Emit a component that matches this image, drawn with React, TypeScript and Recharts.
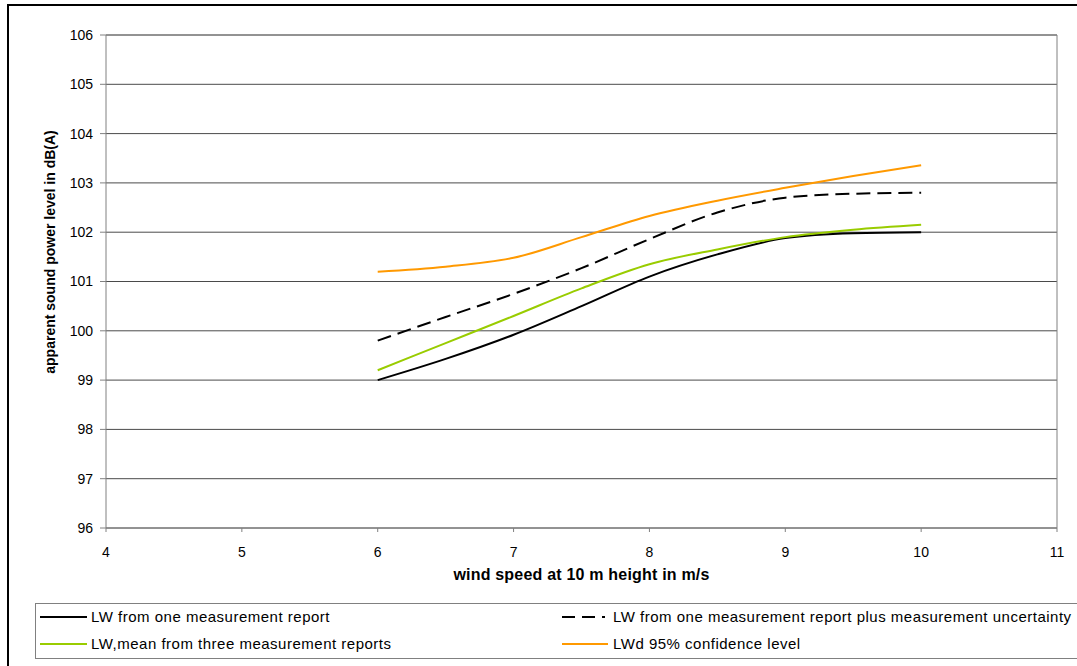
import React from 'react';
import { LineChart, Line, XAxis, YAxis, CartesianGrid, ReferenceLine, Legend, Label } from 'recharts';

const windSpeeds = [6, 6.5, 7, 7.5, 8, 8.5, 9, 9.5, 10];
const lwOneReport = [99.0, 99.43, 99.92, 100.5, 101.1, 101.55, 101.88, 101.98, 102.0];
const lwPlusUncertainty = [99.8, 100.28, 100.75, 101.27, 101.86, 102.4, 102.7, 102.78, 102.8];
const lwMeanThree = [99.2, 99.75, 100.3, 100.86, 101.35, 101.65, 101.9, 102.05, 102.15];
const lwd95 = [101.2, 101.3, 101.48, 101.9, 102.33, 102.64, 102.9, 103.14, 103.36];

const xTicks = [4, 5, 6, 7, 8, 9, 10, 11];
const yTicks = [96, 97, 98, 99, 100, 101, 102, 103, 104, 105, 106];

const seriesNames = [
  'LW from one measurement report',
  'LW from one measurement report plus measurement uncertainty',
  'LW,mean from three measurement reports',
  'LWd 95% confidence level',
];

const data = windSpeeds.map((x, i) => ({
  x,
  a: lwOneReport[i],
  b: lwPlusUncertainty[i],
  c: lwMeanThree[i],
  d: lwd95[i],
}));

const FONT = '"Liberation Sans", Arial, sans-serif';

const series = [
  { key: 'a', name: seriesNames[0], color: '#000000', dash: undefined as string | undefined, legendDash: undefined as string | undefined, col: 0, row: 0, sampleW: 47 },
  { key: 'b', name: seriesNames[1], color: '#000000', dash: '14 7', legendDash: '13 7', col: 1, row: 0, sampleW: 43 },
  { key: 'c', name: seriesNames[2], color: '#99CC00', dash: undefined, legendDash: undefined, col: 0, row: 1, sampleW: 47 },
  { key: 'd', name: seriesNames[3], color: '#FF9900', dash: undefined, legendDash: undefined, col: 1, row: 1, sampleW: 46 },
];

const renderLegend = () => (
  <div
    style={{
      position: 'relative',
      width: 1060,
      height: 54,
      border: '1px solid #808080',
      background: '#fff',
      fontFamily: FONT,
      fontSize: 15,
      letterSpacing: 0.5,
      color: '#000',
    }}
  >
    {series.map((s) => {
      const left = s.col === 0 ? 4 : 526;
      const textLeft = s.col === 0 ? 55 : 577;
      const top = s.row === 0 ? 13 : 40;
      return (
        <React.Fragment key={s.key}>
          <svg style={{ position: 'absolute', left, top: top - 3 }} width={s.sampleW} height={6}>
            <line x1={0} y1={3} x2={s.sampleW} y2={3} stroke={s.color} strokeWidth={2} strokeDasharray={s.legendDash} />
          </svg>
          <div style={{ position: 'absolute', left: textLeft, top: top - 9, lineHeight: '18px', whiteSpace: 'nowrap' }}>{s.name}</div>
        </React.Fragment>
      );
    })}
  </div>
);

const YLabel = (props: any) => {
  const vb = props.viewBox || { x: 0, y: 35, width: 106, height: 493 };
  const cx = vb.x + 50;
  const cy = 252;
  return (
    <text
      x={cx}
      y={cy}
      transform={`rotate(-90, ${cx}, ${cy})`}
      textAnchor="middle"
      dominantBaseline="central"
      fontFamily={FONT}
      fontSize={14}
      fontWeight="bold"
      fill="#000"
    >
      apparent sound power level in dB(A)
    </text>
  );
};

export default function App() {
  return (
    <div style={{ position: 'absolute', left: 0, top: 0, width: 1077, height: 666, overflow: 'hidden', background: '#fff' }}>
      <div style={{ position: 'absolute', left: 7, top: 4, width: 1100, height: 700, border: '2px solid #000', boxSizing: 'border-box' }} />
      <div style={{ position: 'absolute', left: 0, top: 0 }}>
        <LineChart width={1077} height={666} data={data} margin={{ top: 35, right: 20, left: 0, bottom: 86 }}>
          <CartesianGrid vertical={false} stroke="#4a4a4a" strokeWidth={1} />
          <XAxis
            dataKey="x"
            type="number"
            domain={[4, 11]}
            ticks={xTicks}
            allowDataOverflow
            height={52}
            stroke="#808080"
            tickSize={4}
            tickMargin={15}
            tick={{ fill: '#000', fontFamily: FONT, fontSize: 14 }}
          >
            <Label
              value="wind speed at 10 m height in m/s"
              position="insideBottom"
              offset={0}
              style={{ fontFamily: FONT, fontSize: 16, fontWeight: 'bold', fill: '#000', letterSpacing: 0.2 }}
            />
          </XAxis>
          <YAxis
            type="number"
            domain={[96, 106]}
            ticks={yTicks}
            width={106}
            stroke="#808080"
            tickSize={6}
            tickMargin={7}
            interval={0}
            tick={{ fill: '#000', fontFamily: FONT, fontSize: 14 }}
          >
            <Label content={<YLabel />} />
          </YAxis>
          <ReferenceLine x={11} stroke="#808080" strokeWidth={1} />
          <ReferenceLine y={106} stroke="#808080" strokeWidth={1} />
          {series.map((s) => (
            <Line
              key={s.key}
              dataKey={s.key}
              name={s.name}
              type="monotone"
              stroke={s.color}
              strokeWidth={2}
              strokeDasharray={s.dash}
              dot={false}
              activeDot={false}
              isAnimationActive={false}
            />
          ))}
          <Legend
            layout="vertical"
            align="center"
            verticalAlign="middle"
            content={renderLegend}
            wrapperStyle={{ left: 35, top: 603, width: 1060, height: 56, margin: 0, padding: 0 }}
          />
        </LineChart>
      </div>
    </div>
  );
}
